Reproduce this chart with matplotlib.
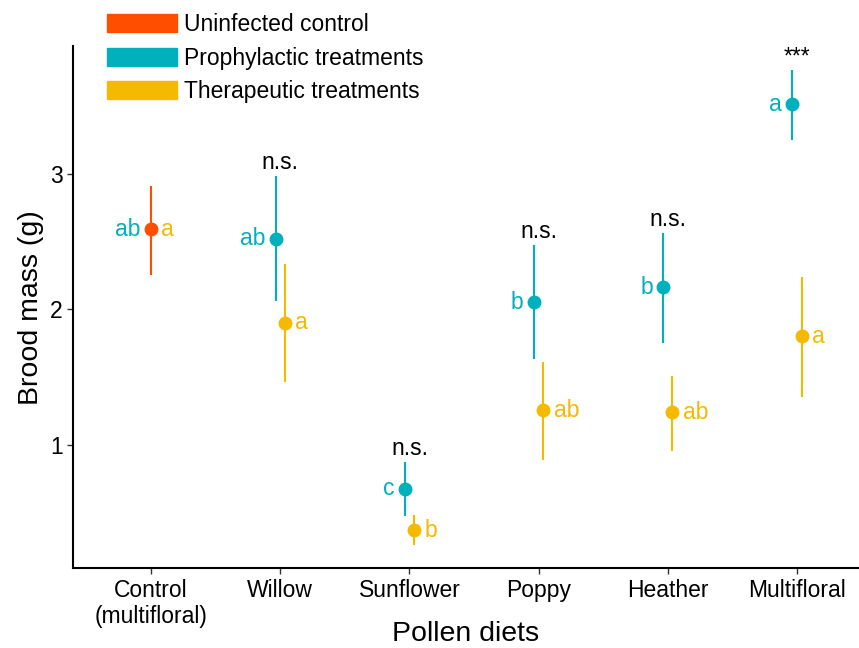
import matplotlib.pyplot as plt
from matplotlib.patches import Patch

plt.rcParams['font.family'] = ['Liberation Sans', 'DejaVu Sans']

diets = ["Control\n(multifloral)", "Willow", "Sunflower", "Poppy", "Heather", "Multifloral"]

# uninfected control (only the first diet)
ctrl_mean = [2.59]
ctrl_lo = [2.255]
ctrl_hi = [2.91]

# prophylactic treatments (Willow .. Multifloral)
pro_mean = [2.52, 0.675, 2.05, 2.16, 3.51]
pro_lo = [2.06, 0.476, 1.63, 1.75, 3.25]
pro_hi = [2.98, 0.875, 2.47, 2.56, 3.76]
pro_letters = ["ab", "c", "b", "b", "a"]

# therapeutic treatments (Willow .. Multifloral)
ther_mean = [1.90, 0.37, 1.255, 1.24, 1.80]
ther_lo = [1.465, 0.26, 0.89, 0.956, 1.35]
ther_hi = [2.33, 0.48, 1.61, 1.51, 2.24]
ther_letters = ["a", "b", "ab", "ab", "a"]

signif = ["n.s.", "n.s.", "n.s.", "n.s.", "***"]

c_ctrl = "#FF4E00"
c_pro = "#00B1BD"
c_ther = "#F5B900"

fs = 16.5

fig = plt.figure(figsize=(8.59, 6.48), dpi=100)
ax = fig.add_axes([0.085, 0.123, 0.915, 0.806])

xs = list(range(1, len(diets) + 1))
dodge = 0.035

# control
ax.vlines(xs[0], ctrl_lo[0], ctrl_hi[0], color=c_ctrl, lw=1.5)
ax.plot(xs[0], ctrl_mean[0], 'o', color=c_ctrl, ms=9)
ax.text(xs[0] - 0.08, ctrl_mean[0], "ab", color=c_pro, fontsize=fs, ha='right', va='center')
ax.text(xs[0] + 0.08, ctrl_mean[0], "a", color=c_ther, fontsize=fs, ha='left', va='center')

for i in range(len(pro_mean)):
    xp = xs[i + 1] - dodge
    xt = xs[i + 1] + dodge
    ax.vlines(xp, pro_lo[i], pro_hi[i], color=c_pro, lw=1.5)
    ax.plot(xp, pro_mean[i], 'o', color=c_pro, ms=9)
    ax.text(xp - 0.08, pro_mean[i], pro_letters[i], color=c_pro, fontsize=fs, ha='right', va='center')
    ax.vlines(xt, ther_lo[i], ther_hi[i], color=c_ther, lw=1.5)
    ax.plot(xt, ther_mean[i], 'o', color=c_ther, ms=9)
    ax.text(xt + 0.08, ther_mean[i], ther_letters[i], color=c_ther, fontsize=fs, ha='left', va='center')
    ax.text(xs[i + 1], pro_hi[i] + 0.1, signif[i], color='black', fontsize=fs, ha='center', va='center')

ax.set_xlim(0.395, 6.48)
ax.set_ylim(0.09, 3.94)
ax.set_yticks([1, 2, 3])
ax.set_xticks(xs)
ax.set_xticklabels(diets)
ax.tick_params(axis='both', labelsize=fs, color='#333333', length=4, width=1, labelcolor='black')
ax.spines['top'].set_visible(False)
ax.spines['right'].set_visible(False)
ax.spines['left'].set_linewidth(1.5)
ax.spines['bottom'].set_linewidth(1.5)
ax.set_xlabel("Pollen diets", fontsize=20.5)
ax.xaxis.set_label_coords(0.5, -0.1)
ax.set_ylabel("Brood mass (g)", fontsize=20.5, labelpad=4)

handles = [Patch(color=c_ctrl, label="Uninfected control"),
           Patch(color=c_pro, label="Prophylactic treatments"),
           Patch(color=c_ther, label="Therapeutic treatments")]
fig.legend(handles=handles, loc='upper left', bbox_to_anchor=(0.117, 0.99), frameon=False,
           fontsize=fs, handlelength=3.05, handleheight=0.83, labelspacing=0.45,
           handletextpad=0.28, borderaxespad=0.0, borderpad=0.3)

fig.savefig("out.png", dpi=100)
